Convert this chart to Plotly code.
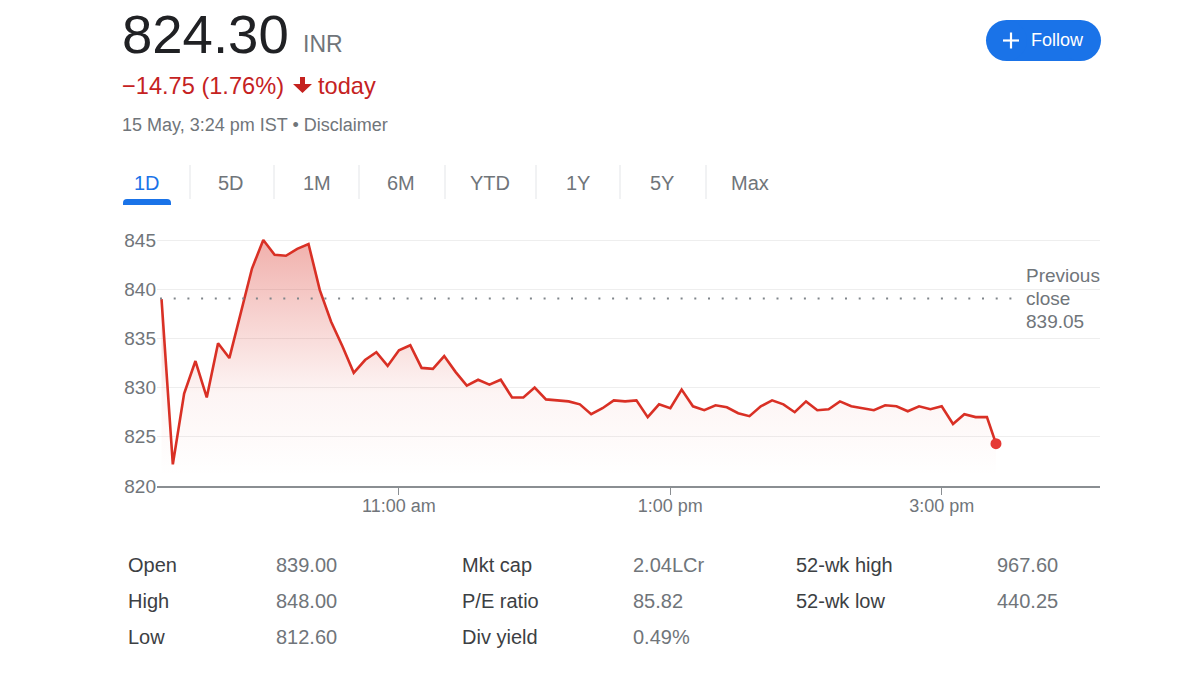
import plotly.graph_objects as go

W, H = 1179, 674


def px(x):
    return x / W


def py(y):
    return 1 - y / H


# ---------------- data ----------------
trade_date = "2024-05-15"
times = [
    "09:15", "09:20", "09:25", "09:30", "09:35", "09:40", "09:45", "09:50", "09:55",
    "10:00", "10:05", "10:10", "10:15", "10:20", "10:25", "10:30", "10:35", "10:40",
    "10:45", "10:50", "10:55", "11:00", "11:05", "11:10", "11:15", "11:20", "11:25",
    "11:30", "11:35", "11:40", "11:45", "11:50", "11:55", "12:00", "12:05", "12:10",
    "12:15", "12:20", "12:25", "12:30", "12:35", "12:40", "12:45", "12:50", "12:55",
    "13:00", "13:05", "13:10", "13:15", "13:20", "13:25", "13:30", "13:35", "13:40",
    "13:45", "13:50", "13:55", "14:00", "14:05", "14:10", "14:15", "14:20", "14:25",
    "14:30", "14:35", "14:40", "14:45", "14:50", "14:55", "15:00", "15:05", "15:10",
    "15:15", "15:20", "15:24",
]
prices = [
    839.0, 822.2, 829.4, 832.7, 829.0, 834.5, 833.0, 837.5, 842.1,
    845.0, 843.5, 843.4, 844.1, 844.6, 839.9, 836.7, 834.2, 831.5,
    832.8, 833.6, 832.2, 833.8, 834.3, 832.0, 831.9, 833.2, 831.6,
    830.2, 830.8, 830.3, 830.8, 829.0, 829.0, 830.0, 828.8, 828.7,
    828.6, 828.3, 827.3, 827.9, 828.7, 828.6, 828.7, 827.0, 828.3,
    827.9, 829.8, 828.1, 827.7, 828.2, 828.0, 827.4, 827.1, 828.1,
    828.7, 828.3, 827.5, 828.6, 827.7, 827.8, 828.6, 828.1, 827.9,
    827.7, 828.2, 828.1, 827.6, 828.1, 827.8, 828.1, 826.3, 827.3,
    827.0, 827.0, 824.3,
]
prev_close = 839.05
y_ticks = [820, 825, 830, 835, 840, 845]
x_tick_times = ["11:00", "13:00", "15:00"]
x_tick_labels = ["11:00 am", "1:00 pm", "3:00 pm"]
x_range_times = ["09:13", "16:10"]

tabs = ["1D", "5D", "1M", "6M", "YTD", "1Y", "5Y", "Max"]
stat_labels_1 = ["Open", "High", "Low"]
stat_values_1 = ["839.00", "848.00", "812.60"]
stat_labels_2 = ["Mkt cap", "P/E ratio", "Div yield"]
stat_values_2 = ["2.04LCr", "85.82", "0.49%"]
stat_labels_3 = ["52-wk high", "52-wk low"]
stat_values_3 = ["967.60", "440.25"]

x_vals = [f"{trade_date} {t}" for t in times]

FONT = "Liberation Sans, Arial, sans-serif"
RED = "#d93025"
GRAY = "#70757a"

fig = go.Figure()

fig.add_trace(go.Scatter(
    x=x_vals, y=prices, mode="lines",
    line=dict(color=RED, width=2.6),
    fill="tozeroy",
    fillgradient=dict(
        type="vertical",
        colorscale=[[0, "rgba(217,48,37,0)"], [0.35, "rgba(217,48,37,0.05)"],
                    [1, "rgba(217,48,37,0.38)"]],
        start=821, stop=845,
    ),
    hoverinfo="skip", showlegend=False,
))
fig.add_trace(go.Scatter(
    x=[x_vals[-1]], y=[prices[-1]], mode="markers",
    marker=dict(color="#e53935", size=11),
    hoverinfo="skip", showlegend=False,
))

shapes = []
annotations = []

# previous close dotted line
shapes.append(dict(
    type="line", xref="paper", yref="y",
    x0=px(160), x1=px(1016), y0=prev_close, y1=prev_close,
    line=dict(color="#80868b", width=2, dash="2px,11.7px"),
))


def ann(text, x, y, size, color, xanchor="left", yanchor="middle"):
    annotations.append(dict(
        text=text, x=px(x), y=py(y), xref="paper", yref="paper",
        xanchor=xanchor, yanchor=yanchor, showarrow=False,
        font=dict(family=FONT, size=size, color=color),
    ))


def path(points, close=True):
    s = "M " + " L ".join(f"{px(a):.5f},{py(b):.5f}" for a, b in points)
    return s + (" Z" if close else "")


# header
ann("824.30", 120, 35, 54.5, "#202124")
ann("INR", 301, 44, 23, GRAY)
ann("\u221214.75 (1.76%)", 120, 86, 23.6, "#c5221f")
shapes.append(dict(
    type="path", xref="paper", yref="paper",
    path=path([(300, 77), (305, 77), (305, 84), (312, 84), (302.5, 93), (293, 84), (300, 84)]),
    fillcolor="#c5221f", line=dict(width=0),
))
ann("today", 316, 86, 23.6, "#c5221f")
ann("15 May, 3:24 pm IST \u2022 Disclaimer", 120, 125, 18, GRAY)

# follow button
shapes.append(dict(type="rect", xref="paper", yref="paper",
                   x0=px(1006), x1=px(1081), y0=py(61), y1=py(20),
                   fillcolor="#1a73e8", line=dict(width=0)))
shapes.append(dict(type="circle", xref="paper", yref="paper",
                   x0=px(986), x1=px(1027), y0=py(61), y1=py(20),
                   fillcolor="#1a73e8", line=dict(width=0)))
shapes.append(dict(type="circle", xref="paper", yref="paper",
                   x0=px(1060), x1=px(1101), y0=py(61), y1=py(20),
                   fillcolor="#1a73e8", line=dict(width=0)))
shapes.append(dict(type="line", xref="paper", yref="paper",
                   x0=px(1003), x1=px(1019), y0=py(40.5), y1=py(40.5),
                   line=dict(color="white", width=2.2)))
shapes.append(dict(type="line", xref="paper", yref="paper",
                   x0=px(1011), x1=px(1011), y0=py(32.5), y1=py(48.5),
                   line=dict(color="white", width=2.2)))
ann("Follow", 1029, 40.5, 18, "white")

# tabs
tab_centers = [147, 231, 317, 401, 490, 578, 662, 750]
for t, cx in zip(tabs, tab_centers):
    ann(t, cx, 183, 20, "#1a73e8" if t == "1D" else GRAY, xanchor="center")
for sx in [190, 274, 359, 445, 536, 620, 706]:
    shapes.append(dict(type="line", xref="paper", yref="paper",
                       x0=px(sx), x1=px(sx), y0=py(165), y1=py(199),
                       line=dict(color="#e3e5e8", width=1)))
shapes.append(dict(
    type="path", xref="paper", yref="paper",
    path=(f"M {px(123)},{py(205)} L {px(123)},{py(203)} Q {px(123)},{py(199)} {px(127)},{py(199)} "
          f"L {px(167)},{py(199)} Q {px(171)},{py(199)} {px(171)},{py(203)} L {px(171)},{py(205)} Z"),
    fillcolor="#1a73e8", line=dict(width=0),
))

# previous close label
ann("Previous", 1024, 275, 19, GRAY)
ann("close", 1024, 298, 19, GRAY)
ann(f"{prev_close:.2f}", 1024, 321.5, 19, GRAY)

# stats table
rows_y = [565, 601, 637]
for labels, values, lx, vx in [
    (stat_labels_1, stat_values_1, 126, 274),
    (stat_labels_2, stat_values_2, 460, 631),
    (stat_labels_3, stat_values_3, 794, 995),
]:
    for lab, val, ry in zip(labels, values, rows_y):
        ann(lab, lx, ry, 20, "#3c4043")
        ann(val, vx, ry, 20, GRAY)

fig.update_layout(
    width=W, height=H, autosize=False,
    margin=dict(l=0, r=0, t=0, b=0),
    paper_bgcolor="white", plot_bgcolor="white",
    font=dict(family=FONT, color=GRAY),
    showlegend=False,
    shapes=shapes, annotations=annotations,
    xaxis=dict(
        domain=[px(157), px(1100)],
        type="date",
        range=[f"{trade_date} {x_range_times[0]}", f"{trade_date} {x_range_times[1]}"],
        tickvals=[f"{trade_date} {t}" for t in x_tick_times],
        ticktext=x_tick_labels,
        showgrid=False, zeroline=False,
        showline=True, linecolor="#8a8e92", linewidth=2,
        ticks="outside", ticklen=7, tickcolor="#8a8e92", tickwidth=1,
        ticklabelstandoff=-5,
        tickfont=dict(family=FONT, size=18, color=GRAY),
        automargin=False, fixedrange=True,
    ),
    yaxis=dict(
        domain=[py(486), py(486 - 26 * 9.84)],
        range=[820, 846],
        tickvals=y_ticks,
        showgrid=True, gridcolor="#eeeeee", gridwidth=1,
        zeroline=False, showline=False, ticks="",
        tickfont=dict(family=FONT, size=19, color=GRAY),
        automargin=False, fixedrange=True,
    ),
)

fig.write_html("out.html")
